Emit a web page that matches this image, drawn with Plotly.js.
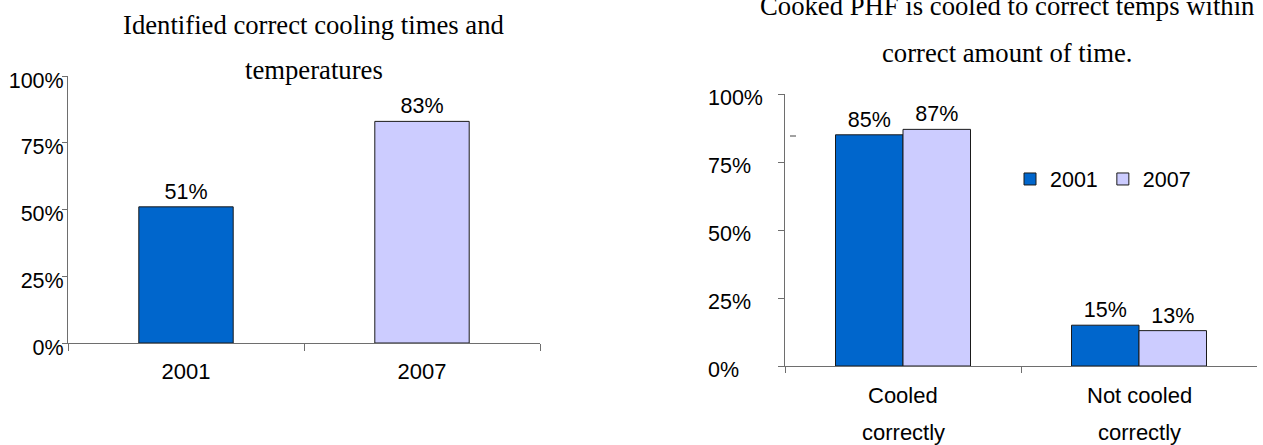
<!DOCTYPE html>
<html>
<head>
<meta charset="utf-8">
<script src="https://cdn.plot.ly/plotly-3.0.1.min.js"></script>
<style>
  html, body { margin: 0; padding: 0; background: #ffffff; }
  #chart { width: 1263px; height: 445px; }
</style>
</head>
<body>
<div id="chart"></div>
<script>
// Survey results: cooling of potentially hazardous food (PHF), 2001 vs 2007
const years = ['2001', '2007'];
const identifiedValues = [51, 83];

const coolingCategories = ['Cooled correctly', 'Not cooled correctly'];
const cooling2001 = [85, 15];
const cooling2007 = [87, 13];

const percentTicks = [0, 25, 50, 75, 100];

const leftTitleLines = ['Identified correct cooling times and', 'temperatures'];
const rightTitleLines = ['Cooked PHF is cooled to correct temps within', 'correct amount of time.'];

const W = 1263, H = 445;
const BLUE = '#0066CC';
const LAVENDER = '#CCCCFF';
const SANS = 'Liberation Sans, Arial, sans-serif';
const SERIF = 'Liberation Serif, Times New Roman, serif';

// pixel helpers for paper coordinates
const px = x => x / W;
const py = y => 1 - y / H;

const pct = v => v + '%';

// split a category name into two lines at its last space
const splitLabel = s => {
  const i = s.lastIndexOf(' ');
  return [s.slice(0, i), s.slice(i + 1)];
};

const barLine = { color: '#1a1a1a', width: 1 };
const labelFont = { family: SANS, size: 21.5, color: '#000000' };
const tickFont = { family: SANS, size: 21.5, color: '#000000' };

const traces = [
  {
    type: 'bar',
    x: years,
    y: identifiedValues,
    xaxis: 'x', yaxis: 'y',
    width: 0.4,
    marker: { color: [BLUE, LAVENDER], line: barLine },
    text: identifiedValues.map(pct),
    textposition: 'outside',
    textfont: labelFont,
    cliponaxis: false,
    showlegend: false,
    hoverinfo: 'skip'
  },
  {
    type: 'bar',
    name: years[0],
    x: coolingCategories,
    y: cooling2001,
    xaxis: 'x2', yaxis: 'y2',
    width: 0.286, offset: -0.286,
    marker: { color: BLUE, line: barLine },
    text: cooling2001.map(pct),
    textposition: 'outside',
    textfont: labelFont,
    cliponaxis: false,
    hoverinfo: 'skip'
  },
  {
    type: 'bar',
    name: years[1],
    x: coolingCategories,
    y: cooling2007,
    xaxis: 'x2', yaxis: 'y2',
    width: 0.286, offset: 0,
    marker: { color: LAVENDER, line: barLine },
    text: cooling2007.map(pct),
    textposition: 'outside',
    textfont: labelFont,
    cliponaxis: false,
    hoverinfo: 'skip'
  }
];

const axisColor = '#6e6e6e';

const annotations = [];

// chart titles, one annotation per line for wide line spacing
leftTitleLines.forEach((t, i) => annotations.push({
  xref: 'paper', yref: 'paper', x: px(314), y: py(25 + i * 45),
  xanchor: 'center', yanchor: 'middle', showarrow: false,
  text: t, font: { family: SERIF, size: 26.7, color: '#000000' }
}));
rightTitleLines.forEach((t, i) => annotations.push({
  xref: 'paper', yref: 'paper', x: px(1007), y: py(6 + i * 47),
  xanchor: 'center', yanchor: 'middle', showarrow: false,
  text: t, font: { family: SERIF, size: 26.7, color: '#000000' }
}));

// right chart y tick labels, left aligned
percentTicks.forEach(v => annotations.push({
  xref: 'paper', yref: 'y2', x: px(706), y: v,
  xanchor: 'left', yanchor: 'middle', yshift: -4, showarrow: false,
  text: pct(v), font: tickFont
}));

// right chart category labels on two widely spaced lines
coolingCategories.forEach(c => {
  splitLabel(c).forEach((line, i) => annotations.push({
    xref: 'x2', yref: 'paper', x: c, y: py(395 + i * 37),
    xanchor: 'center', yanchor: 'middle', showarrow: false,
    text: line, font: { family: SANS, size: 22, color: '#000000' }
  }));
});

const layout = {
  width: W, height: H,
  margin: { l: 0, r: 0, t: 0, b: 0 },
  paper_bgcolor: '#ffffff',
  plot_bgcolor: 'rgba(0,0,0,0)',
  showlegend: true,
  legend: {
    orientation: 'h',
    x: px(1010), y: py(179), xanchor: 'left', yanchor: 'middle',
    font: { family: SANS, size: 21.5, color: '#000000' },
    bgcolor: 'rgba(0,0,0,0)',
    itemclick: false, itemdoubleclick: false
  },
  xaxis: {
    domain: [px(68), px(540)],
    anchor: 'y',
    type: 'category',
    showline: true, linecolor: axisColor, linewidth: 1,
    ticks: 'outside', tickson: 'boundaries', ticklen: 7, tickcolor: axisColor,
    showgrid: false, zeroline: false,
    tickfont: { family: SANS, size: 22, color: '#000000' },
    ticklabelstandoff: 9,
    fixedrange: true
  },
  yaxis: {
    domain: [py(343), py(76)],
    anchor: 'x',
    range: [0, 100],
    tickvals: percentTicks,
    ticktext: percentTicks.map(pct),
    showline: true, linecolor: axisColor, linewidth: 1,
    ticks: 'outside', ticklen: 5, tickcolor: axisColor,
    showgrid: false, zeroline: false,
    tickfont: tickFont,
    ticklabelshift: 4,
    ticklabelstandoff: -6,
    fixedrange: true
  },
  xaxis2: {
    domain: [px(785), px(1257)],
    anchor: 'y2',
    type: 'category',
    showline: true, linecolor: axisColor, linewidth: 1,
    ticks: 'outside', tickson: 'boundaries', ticklen: 6, tickcolor: axisColor,
    showgrid: false, zeroline: false,
    showticklabels: false,
    fixedrange: true
  },
  yaxis2: {
    domain: [py(366), py(94)],
    anchor: 'x2',
    range: [0, 100],
    tickvals: percentTicks,
    showline: true, linecolor: axisColor, linewidth: 1,
    ticks: 'outside', ticklen: 6, tickcolor: axisColor,
    showgrid: false, zeroline: false,
    showticklabels: false,
    fixedrange: true
  },
  shapes: [
    // short stray dash beside the right chart's axis
    { type: 'line', xref: 'paper', yref: 'paper',
      x0: px(790), x1: px(796), y0: py(136), y1: py(136),
      line: { color: '#444444', width: 1 } }
  ],
  annotations: annotations
};

Plotly.newPlot('chart', traces, layout, { displayModeBar: false, staticPlot: true });
</script>
</body>
</html>
